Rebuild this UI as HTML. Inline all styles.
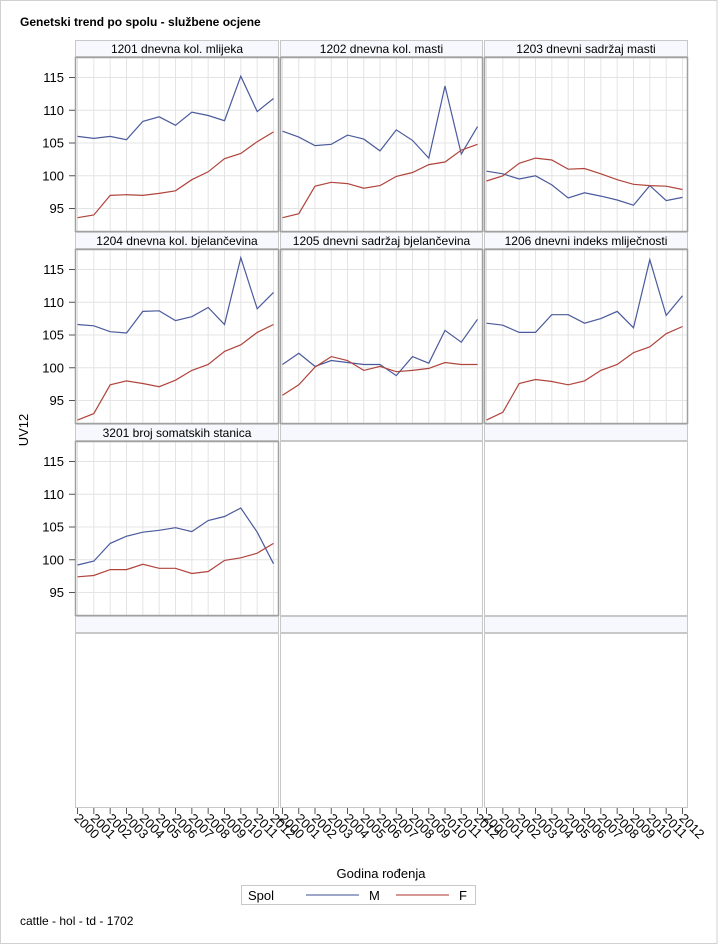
<!DOCTYPE html>
<html><head><meta charset="utf-8">
<style>
body{margin:0;background:#fff;}
svg{display:block;font-family:"Liberation Sans",sans-serif;}
</style></head>
<body>
<svg id="c" width="718" height="945" viewBox="0 0 718 945" xmlns="http://www.w3.org/2000/svg">
<rect x="0.5" y="0.5" width="716.5" height="943" fill="#fff" stroke="#d0d0d0"/>
<text x="20" y="26" font-size="12" font-weight="bold" fill="#000">Genetski trend po spolu - službene ocjene</text>
<text transform="translate(28,430) rotate(-90)" font-size="13" text-anchor="middle" fill="#000">UV12</text>
<text x="381" y="878" font-size="13" text-anchor="middle" fill="#000">Godina rođenja</text>
<g>
<rect x="241.5" y="885.5" width="234" height="19" fill="#fff" stroke="#c8c8c8"/>
<text x="248" y="900" font-size="13" fill="#000">Spol</text>
<line x1="306" y1="895" x2="359" y2="895" stroke="#3b4f94" stroke-width="1"/>
<text x="369" y="900" font-size="13" fill="#000">M</text>
<line x1="396" y1="895" x2="449" y2="895" stroke="#a8322e" stroke-width="1"/>
<text x="459" y="900" font-size="13" fill="#000">F</text>
</g>
<text x="20" y="925" font-size="12" fill="#000">cattle - hol - td - 1702</text>
</svg>
<script>
const years = ['2000','2001','2002','2003','2004','2005','2006','2007','2008','2009','2010','2011','2012'];
const yTicks = [95,100,105,110,115];
const panelTitles = ['1201 dnevna kol. mlijeka','1202 dnevna kol. masti','1203 dnevni sadržaj masti','1204 dnevna kol. bjelančevina','1205 dnevni sadržaj bjelančevina','1206 dnevni indeks mliječnosti','3201 broj somatskih stanica'];
const seriesM = [
 [106,105.7,106,105.5,108.3,109,107.7,109.7,109.2,108.4,115.2,109.8,111.8],
 [106.8,105.9,104.6,104.8,106.2,105.6,103.8,107,105.4,102.7,113.7,103.3,107.5],
 [100.7,100.3,99.5,100,98.6,96.6,97.4,96.9,96.3,95.5,98.5,96.2,96.7],
 [106.6,106.4,105.5,105.3,108.6,108.7,107.2,107.8,109.2,106.6,116.8,109,111.5],
 [100.5,102.2,100.2,101.1,100.8,100.5,100.5,98.8,101.7,100.7,105.7,103.9,107.4],
 [106.8,106.5,105.4,105.4,108.1,108.1,106.8,107.5,108.6,106.1,116.5,108,111],
 [99.2,99.8,102.5,103.6,104.2,104.5,104.9,104.3,106,106.6,107.9,104.2,99.4]
];
const seriesF = [
 [93.6,94,97,97.1,97,97.3,97.7,99.4,100.6,102.6,103.4,105.2,106.7],
 [93.6,94.2,98.4,99,98.8,98.1,98.5,99.9,100.5,101.7,102.1,103.9,104.8],
 [99.2,100,101.9,102.7,102.4,101,101.1,100.3,99.4,98.7,98.5,98.4,97.9],
 [92,93,97.4,98,97.6,97.1,98.1,99.6,100.5,102.5,103.5,105.4,106.6],
 [95.8,97.4,100.1,101.7,101.1,99.6,100.2,99.4,99.6,99.9,100.8,100.5,100.5],
 [92,93.2,97.6,98.2,97.9,97.4,98,99.6,100.5,102.3,103.2,105.2,106.3],
 [97.4,97.6,98.5,98.5,99.3,98.7,98.7,97.9,98.2,99.9,100.3,101,102.5]
];
const NS='http://www.w3.org/2000/svg';
const svg=document.getElementById('c');
function mk(tag,attrs,parent){const e=document.createElementNS(NS,tag);for(const k in attrs)e.setAttribute(k,attrs[k]);(parent||svg).appendChild(e);return e;}
const colL=[75,280,484], colW=[204,203,204];
const rowTop=[40,232,424,616];
function xScale(col,i){return colL[col]+2.5+i*(colW[col]-8)/(years.length-1);}
function yScale(row,v){const y115=rowTop[row]+37.5;return y115+(115-v)*6.55;}
for(let r=0;r<4;r++){
  for(let c=0;c<3;c++){
    const idx=r*3+c;
    const g=mk('g',{});
    
    
    const hdr=mk('rect',{x:colL[c]+0.5,y:rowTop[r]+0.5,width:colW[c]-1,height:16,fill:'#f6f8fd',stroke:'#c8c8c8'},g);
    
    
    const pt=rowTop[r]+17.5, ph=174;
    const hasData=idx<panelTitles.length;
    if(hasData){
      for(let i=0;i<years.length;i++){const x=xScale(c,i);mk('line',{x1:x,y1:pt,x2:x,y2:pt+ph,stroke:'#e4e4e4'},g);}
      yTicks.forEach(t=>{const y=yScale(r,t);mk('line',{x1:colL[c],y1:y,x2:colL[c]+colW[c],y2:y,stroke:'#e4e4e4'},g);});
    }
    mk('rect',{x:colL[c]+0.5,y:pt,width:colW[c]-1,height:ph,fill:'none',stroke:(hasData?'#a0a0a0':'#c8c8c8'),'stroke-width':(hasData?1.5:1)},g);
    if(hasData){
      const t=mk('text',{x:colL[c]+colW[c]/2,y:rowTop[r]+13,'font-size':12,'text-anchor':'middle',fill:'#000'},g);
      t.textContent=panelTitles[idx];
      
      
      const pm=seriesM[idx].map((v,i)=>xScale(c,i).toFixed(1)+','+yScale(r,v).toFixed(1)).join(' ');
      const lm=mk('polyline',{points:pm,fill:'none',stroke:'#4a5a9c','stroke-width':1.2},g);
      
      
      const pf=seriesF[idx].map((v,i)=>xScale(c,i).toFixed(1)+','+yScale(r,v).toFixed(1)).join(' ');
      const lf=mk('polyline',{points:pf,fill:'none',stroke:'#b0443c','stroke-width':1.2},g);
      
      
    }
  }
  if(r<3){
    yTicks.forEach(t=>{
      const y=yScale(r,t);
      mk('line',{x1:69,y1:y,x2:75,y2:y,stroke:'#555'});
      const tx=mk('text',{x:64,y:y+4.5,'font-size':13,'text-anchor':'end',fill:'#000'});
      tx.textContent=t;
      
      
    });
  }
}
for(let c=0;c<3;c++){
  for(let i=0;i<years.length;i++){
    const x=xScale(c,i);
    mk('line',{x1:x,y1:808,x2:x,y2:814,stroke:'#555'});
    const tx=mk('text',{transform:'translate('+(x-4)+',819) rotate(45)','font-size':13,fill:'#000'});
    tx.textContent=years[i];
    
    
  }
}
</script>
</body></html>
